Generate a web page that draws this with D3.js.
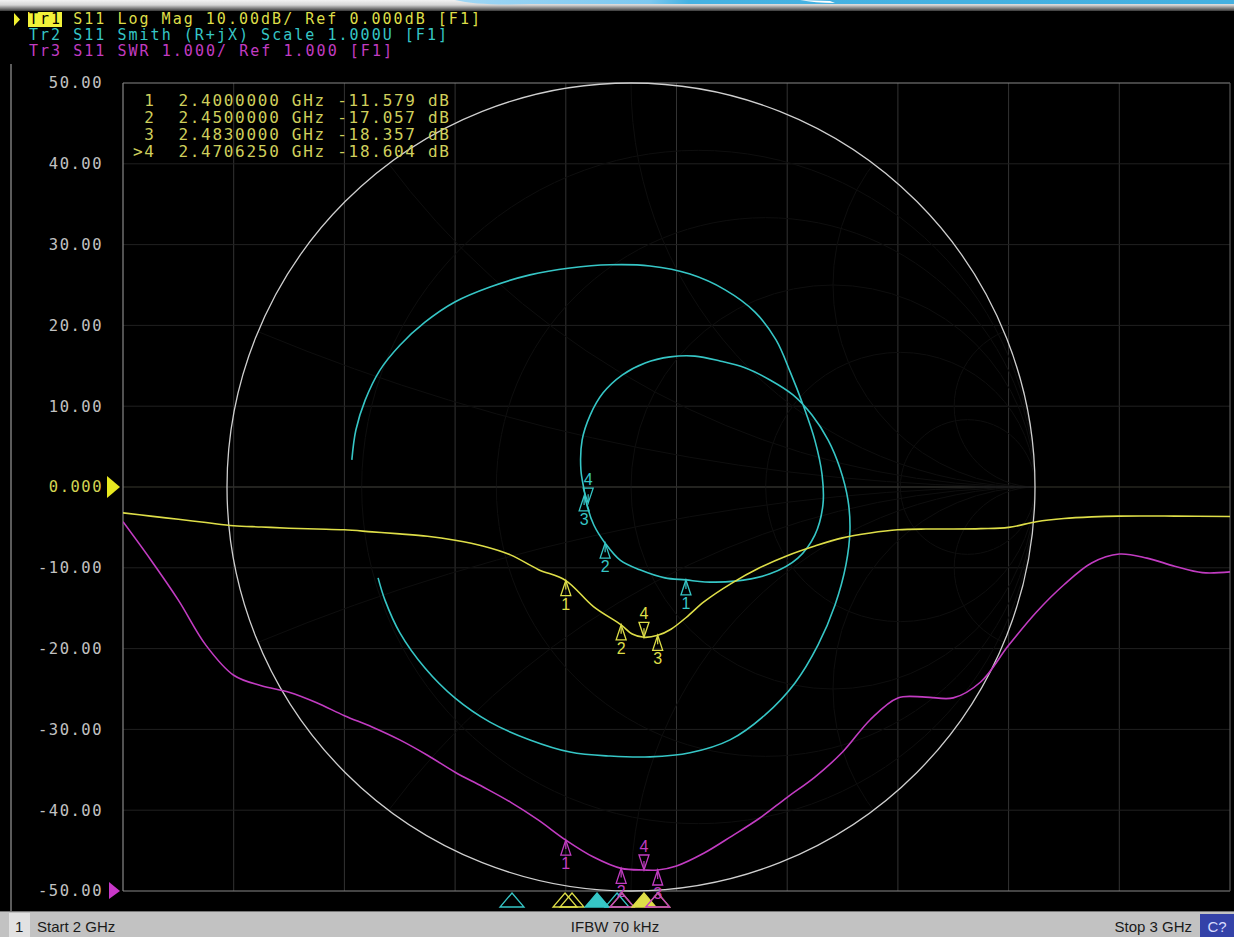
<!DOCTYPE html>
<html><head><meta charset="utf-8">
<script src="https://cdn.jsdelivr.net/npm/d3@7"></script>
<style>
html,body{margin:0;padding:0;background:#000;overflow:hidden}
svg{display:block}
</style></head><body>
<svg id="c" width="1234" height="937"></svg>
<script>
// ---------------- DATA ----------------
const headerLines = [
  "Tr1 S11 Log Mag 10.00dB/ Ref 0.000dB [F1]",
  "Tr2 S11 Smith (R+jX) Scale 1.000U [F1]",
  "Tr3 S11 SWR 1.000/ Ref 1.000 [F1]"
];
const markerIds = ["1", "2", "3", ">4"];
const markerFreqText = ["2.4000000", "2.4500000", "2.4830000", "2.4706250"];
const markerValText = ["-11.579", "-17.057", "-18.357", "-18.604"];
const markerFreq = [2.4, 2.45, 2.483, 2.470625];
const markerDb = [-11.579, -17.057, -18.357, -18.604];
const markerSwr = [1.63, 1.28, 1.26, 1.26];
const markerGammaRe = [0.136, -0.064, -0.116, -0.106];
const markerGammaIm = [-0.230, -0.139, -0.022, -0.040];
const markerActive = [false, false, false, true];

const yTickValues = [50, 40, 30, 20, 10, 0, -10, -20, -30, -40, -50];
const yTickLabels = ["50.00", "40.00", "30.00", "20.00", "10.00", "0.000", "-10.00", "-20.00", "-30.00", "-40.00", "-50.00"];
const xGridFreqs = [2.1, 2.2, 2.3, 2.4, 2.5, 2.6, 2.7, 2.8, 2.9];

// Tr1 Log Mag (dB) vs frequency (GHz)
const tr1Freq = [2.000, 2.025, 2.050, 2.075, 2.100, 2.125, 2.150, 2.175, 2.200, 2.225, 2.250, 2.275, 2.300, 2.325, 2.350, 2.375, 2.400, 2.425, 2.450, 2.460, 2.4706, 2.483, 2.495, 2.510, 2.525, 2.550, 2.575, 2.600, 2.625, 2.650, 2.675, 2.700, 2.725, 2.750, 2.775, 2.800, 2.825, 2.850, 2.875, 2.900, 2.950, 3.000];
const tr1Db   = [-3.2, -3.6, -4.0, -4.4, -4.8, -4.95, -5.1, -5.2, -5.3, -5.55, -5.8, -6.1, -6.6, -7.3, -8.4, -10.2, -11.58, -14.8, -17.06, -18.2, -18.6, -18.36, -17.6, -16.0, -14.2, -11.9, -10.0, -8.5, -7.3, -6.3, -5.7, -5.3, -5.2, -5.2, -5.15, -5.0, -4.3, -3.9, -3.7, -3.6, -3.6, -3.65];

// Tr3 SWR vs frequency (GHz)
const tr3Freq = [2.000, 2.025, 2.050, 2.075, 2.100, 2.125, 2.150, 2.175, 2.200, 2.225, 2.250, 2.275, 2.300, 2.325, 2.350, 2.375, 2.400, 2.425, 2.450, 2.4706, 2.483, 2.500, 2.525, 2.550, 2.575, 2.600, 2.625, 2.650, 2.675, 2.700, 2.725, 2.750, 2.775, 2.800, 2.825, 2.850, 2.875, 2.900, 2.925, 2.950, 2.975, 3.000];
const tr3Swr  = [5.57, 5.10, 4.60, 4.04, 3.67, 3.54, 3.46, 3.33, 3.17, 3.03, 2.87, 2.68, 2.47, 2.29, 2.10, 1.88, 1.63, 1.42, 1.28, 1.26, 1.26, 1.31, 1.47, 1.68, 1.90, 2.16, 2.41, 2.72, 3.12, 3.39, 3.40, 3.39, 3.59, 4.04, 4.45, 4.79, 5.06, 5.17, 5.12, 5.02, 4.94, 4.95];

// Tr2 Smith chart: reflection coefficient (real, imaginary), in sweep order
const tr2Re = [-0.691, -0.681, -0.658, -0.621, -0.572, -0.510, -0.436, -0.349, -0.250, -0.151, -0.052, 0.047, 0.146, 0.233, 0.307, 0.359, 0.394, 0.426, 0.455, 0.473, 0.475, 0.455, 0.413, 0.344, 0.257, 0.183, 0.136, 0.084, 0.022, -0.027, -0.064, -0.092, -0.109, -0.116, -0.124, -0.121, -0.101, -0.069, -0.022, 0.035, 0.097, 0.158, 0.220, 0.282, 0.344, 0.401, 0.448, 0.488, 0.517, 0.537, 0.542, 0.532, 0.505, 0.463, 0.406, 0.332, 0.245, 0.146, 0.047, -0.052, -0.151, -0.250, -0.349, -0.436, -0.510, -0.572, -0.609, -0.626];
const tr2Im = [0.067, 0.141, 0.215, 0.290, 0.351, 0.408, 0.458, 0.495, 0.525, 0.542, 0.550, 0.547, 0.527, 0.488, 0.433, 0.364, 0.285, 0.203, 0.116, 0.030, -0.045, -0.119, -0.176, -0.215, -0.233, -0.235, -0.230, -0.225, -0.205, -0.181, -0.139, -0.094, -0.045, -0.007, 0.042, 0.116, 0.178, 0.233, 0.277, 0.307, 0.322, 0.324, 0.312, 0.295, 0.265, 0.228, 0.178, 0.116, 0.047, -0.032, -0.106, -0.193, -0.292, -0.391, -0.485, -0.564, -0.626, -0.658, -0.668, -0.666, -0.656, -0.626, -0.582, -0.522, -0.448, -0.361, -0.280, -0.225];

// Marker position indicators below the grid
const indFreq   = [2.3514, 2.3993, 2.4056, 2.4282, 2.4463, 2.4508, 2.4508, 2.4706, 2.483, 2.483];
const indTrace  = ["Tr2", "Tr1", "Tr1", "Tr2", "Tr2", "Tr1", "Tr3", "Tr1", "Tr1", "Tr3"];
const indFilled = [false, false, false, true, false, false, false, true, false, false];

const smithRCircles = [0.2, 0.5, 1, 2, 5];
const smithXArcs = [0.2, 0.5, 1, 2, 5, -0.2, -0.5, -1, -2, -5];

// ---------------- LAYOUT / STYLE ----------------
const col = { Tr1: "#dede48", Tr2: "#36c6c6", Tr3: "#c23cc2" };
const plot = { l: 123, r: 1230, t: 83, b: 891 };
const smith = { cx: 631, cy: 487, r: 404 };
const MONO = "DejaVu Sans Mono, monospace";
const SANS = "Liberation Sans, Arial, sans-serif";

const svg = d3.select("#c");
const defs = svg.append("defs");

const x = d3.scaleLinear().domain([2, 3]).range([plot.l, plot.r]);
const yDb = d3.scaleLinear().domain([-50, 50]).range([plot.b, plot.t]);
const ySwr = d3.scaleLinear().domain([1, 11]).range([plot.b, plot.t]);
const gx = d3.scaleLinear().domain([-1, 1]).range([smith.cx - smith.r, smith.cx + smith.r]);
const gy = d3.scaleLinear().domain([-1, 1]).range([smith.cy + smith.r, smith.cy - smith.r]);

// background
svg.append("rect").attr("width", 1234).attr("height", 937).attr("fill", "#000");

// top window band
const tg = defs.append("linearGradient").attr("id", "topg").attr("x1", 0).attr("y1", 0).attr("x2", 0).attr("y2", 1);
tg.append("stop").attr("offset", "0%").attr("stop-color", "#f2f2f2");
tg.append("stop").attr("offset", "45%").attr("stop-color", "#d6d6d6");
tg.append("stop").attr("offset", "100%").attr("stop-color", "#3a3a3a");
svg.append("rect").attr("x", 0).attr("y", 0).attr("width", 1234).attr("height", 11).attr("fill", "url(#topg)");
const bg = defs.append("linearGradient").attr("id", "blueg").attr("x1", 0).attr("y1", 0).attr("x2", 1).attr("y2", 0);
bg.append("stop").attr("offset", "0%").attr("stop-color", "#9fd6f4");
bg.append("stop").attr("offset", "25%").attr("stop-color", "#7cc8f0");
bg.append("stop").attr("offset", "30%").attr("stop-color", "#45b2e2");
bg.append("stop").attr("offset", "100%").attr("stop-color", "#44b0e0");
svg.append("path").attr("d", "M455,0 Q480,6 530,4 L1234,4 L1234,0 Z").attr("fill", "url(#blueg)");
svg.append("path").attr("d", "M800,0 Q815,3 835,3 L830,1 Z").attr("fill", "#ffffff");

// left border strip
svg.append("line").attr("x1", 11).attr("x2", 11).attr("y1", 64).attr("y2", 911).attr("stroke", "#5c5c5c").attr("stroke-width", 2);

// grid
const grid = svg.append("g");
grid.selectAll("line.v").data(xGridFreqs).join("line")
  .attr("x1", d => x(d)).attr("x2", d => x(d)).attr("y1", plot.t).attr("y2", plot.b)
  .attr("stroke", "#333").attr("stroke-width", 1);
grid.selectAll("line.h").data(yTickValues.filter(v => v !== 50 && v !== -50)).join("line")
  .attr("x1", plot.l).attr("x2", plot.r).attr("y1", d => yDb(d)).attr("y2", d => yDb(d))
  .attr("stroke", d => d === 0 ? "#38382e" : "#202020").attr("stroke-width", 1);

// Smith faint grid
defs.append("clipPath").attr("id", "unit").append("circle").attr("cx", smith.cx).attr("cy", smith.cy).attr("r", smith.r);
defs.append("clipPath").attr("id", "plotclip").append("rect").attr("x", plot.l).attr("y", plot.t - 2).attr("width", plot.r - plot.l).attr("height", plot.b - plot.t + 4);
const sg = svg.append("g").attr("clip-path", "url(#unit)").attr("fill", "none").attr("stroke", "#0e0e0e").attr("stroke-width", 1);
sg.selectAll("circle.r").data(smithRCircles).join("circle")
  .attr("cx", r => gx(r / (1 + r))).attr("cy", gy(0)).attr("r", r => gx(1 / (1 + r)) - gx(0));
sg.selectAll("circle.x").data(smithXArcs).join("circle")
  .attr("cx", gx(1)).attr("cy", v => gy(1 / v)).attr("r", v => Math.abs(gx(1 / Math.abs(v)) - gx(0)));
sg.append("line").attr("x1", gx(-1)).attr("x2", gx(1)).attr("y1", gy(0)).attr("y2", gy(0)).attr("stroke", "#2a2a2a");

// Frame
const fr = svg.append("g").attr("stroke", "#888").attr("stroke-width", 1.2);
fr.append("line").attr("x1", plot.l).attr("x2", plot.r).attr("y1", plot.t).attr("y2", plot.t);
fr.append("line").attr("x1", plot.l).attr("x2", plot.r).attr("y1", plot.b).attr("y2", plot.b);
fr.append("line").attr("x1", plot.l).attr("x2", plot.l).attr("y1", plot.t).attr("y2", plot.b);
fr.append("line").attr("x1", plot.r).attr("x2", plot.r).attr("y1", plot.t).attr("y2", plot.b).attr("stroke", "#555");

// Smith outer circle
svg.append("circle").attr("cx", gx(0)).attr("cy", gy(0)).attr("r", gx(1) - gx(0))
  .attr("fill", "none").attr("stroke", "#cfcfcf").attr("stroke-width", 1.3);

// Y axis
const axis = d3.axisLeft(yDb).tickValues(yTickValues).tickFormat((d, i) => yTickLabels[i]).tickSize(0).tickPadding(20);
const ga = svg.append("g").attr("transform", `translate(${plot.l},0)`).call(axis);
ga.select(".domain").remove();
ga.attr("font-family", MONO).attr("font-size", 15.5);
ga.selectAll("text").attr("fill", d => d === 0 ? "#d4d452" : "#c2c2c2").style("letter-spacing", "1.5px");

// reference triangles
svg.append("path").attr("d", `M${plot.l - 16},${yDb(0) - 11} L${plot.l - 3},${yDb(0)} L${plot.l - 16},${yDb(0) + 11} Z`).attr("fill", "#e8e820");
svg.append("path").attr("d", `M${plot.l - 14},${ySwr(1) - 9} L${plot.l - 3},${ySwr(1)} L${plot.l - 14},${ySwr(1) + 8} Z`).attr("fill", "#c838c8");

// Traces
const tg2 = svg.append("g").attr("clip-path", "url(#plotclip)").attr("fill", "none").attr("stroke-width", 1.6).attr("stroke-linejoin", "round");
const lineSwr = d3.line().x((d, i) => x(tr3Freq[i])).y(d => ySwr(d)).curve(d3.curveCatmullRom.alpha(0.5));
tg2.append("path").attr("d", lineSwr(tr3Swr)).attr("stroke", col.Tr3);
const lineSmith = d3.line().x((d, i) => gx(d)).y((d, i) => gy(tr2Im[i])).curve(d3.curveCatmullRom.alpha(0.5));
tg2.append("path").attr("d", lineSmith(tr2Re)).attr("stroke", col.Tr2);
const lineDb = d3.line().x((d, i) => x(tr1Freq[i])).y(d => yDb(d)).curve(d3.curveCatmullRom.alpha(0.5));
tg2.append("path").attr("d", lineDb(tr1Db)).attr("stroke", col.Tr1);

// Markers
function marker(px, py, color, label, down) {
  const g = svg.append("g");
  const w = 5, h = 15;
  if (!down) {
    g.append("path").attr("d", `M${px},${py} L${px + w},${py + h} L${px - w},${py + h} Z`)
      .attr("fill", "none").attr("stroke", color).attr("stroke-width", 1.3);
    g.append("line").attr("x1", px).attr("x2", px).attr("y1", py + 2).attr("y2", py + 9).attr("stroke", color).attr("stroke-width", 1.2);
    g.append("text").attr("x", px).attr("y", py + h + 14).attr("text-anchor", "middle")
      .attr("font-family", SANS).attr("font-size", 16).attr("fill", color).text(label);
  } else {
    g.append("path").attr("d", `M${px},${py} L${px + w},${py - h} L${px - w},${py - h} Z`)
      .attr("fill", "none").attr("stroke", color).attr("stroke-width", 1.3);
    g.append("line").attr("x1", px).attr("x2", px).attr("y1", py - 2).attr("y2", py - 9).attr("stroke", color).attr("stroke-width", 1.2);
    g.append("text").attr("x", px).attr("y", py - h - 3).attr("text-anchor", "middle")
      .attr("font-family", SANS).attr("font-size", 16).attr("fill", color).text(label);
  }
}
markerFreq.forEach((f, i) => {
  const lab = String(i + 1);
  marker(x(f), yDb(markerDb[i]), col.Tr1, lab, markerActive[i]);
  marker(x(f), ySwr(markerSwr[i]), col.Tr3, lab, markerActive[i]);
  marker(gx(markerGammaRe[i]), gy(markerGammaIm[i]), col.Tr2, lab, markerActive[i]);
});

// Indicators below grid
indFreq.forEach((f, i) => {
  const cx = x(f), c = col[indTrace[i]];
  svg.append("path").attr("d", `M${cx},893 L${cx + 12},907 L${cx - 12},907 Z`)
    .attr("fill", indFilled[i] ? c : "none").attr("stroke", c).attr("stroke-width", 1.3);
});

// Header
svg.append("path").attr("d", "M14,13 L20,19.5 L14,26 Z").attr("fill", "#f0f030");
svg.append("rect").attr("x", 28).attr("y", 12).attr("width", 34).attr("height", 15).attr("fill", "#f2f23a");
const hdrColors = [col.Tr1, col.Tr2, col.Tr3];
const hdrY = [24, 40, 56];
headerLines.forEach((s, i) => {
  const t = svg.append("text").attr("x", 29).attr("y", hdrY[i]).attr("font-family", MONO).attr("font-size", 15)
    .attr("fill", hdrColors[i]).attr("textLength", s.length * 11.0).attr("lengthAdjust", "spacing");
  if (i === 0) {
    t.append("tspan").attr("fill", "#000").text(s.slice(0, 3));
    t.append("tspan").text(s.slice(3));
  } else t.text(s);
});

// Marker table
const tblY = [106, 123, 140, 157];
markerIds.forEach((id, i) => {
  const pre = id.length === 1 ? " " + id : id;
  const s = `${pre}  ${markerFreqText[i]} GHz ${markerValText[i]} dB`;
  svg.append("text").attr("x", 133).attr("y", tblY[i]).attr("font-family", MONO).attr("font-size", 16)
    .attr("fill", "#cfcf5c").attr("textLength", 316).attr("lengthAdjust", "spacing")
    .style("white-space", "pre").attr("xml:space", "preserve").text(s);
});

// Status bar
svg.append("rect").attr("x", 0).attr("y", 911).attr("width", 1234).attr("height", 26).attr("fill", "#c2c2c2");
svg.append("line").attr("x1", 0).attr("x2", 1234).attr("y1", 911.5).attr("y2", 911.5).attr("stroke", "#777");
svg.append("rect").attr("x", 9).attr("y", 913).attr("width", 21).attr("height", 24).attr("fill", "#e2e2e2");
const sb = svg.append("g").attr("font-family", SANS).attr("font-size", 15).attr("fill", "#1a1a1a");
sb.append("text").attr("x", 15).attr("y", 932).text("1");
sb.append("text").attr("x", 37).attr("y", 932).text("Start 2 GHz");
sb.append("text").attr("x", 615).attr("y", 932).attr("text-anchor", "middle").text("IFBW 70 kHz");
sb.append("text").attr("x", 1192).attr("y", 932).attr("text-anchor", "end").text("Stop 3 GHz");
svg.append("rect").attr("x", 1200).attr("y", 914).attr("width", 34).attr("height", 23).attr("fill", "#3442a8");
svg.append("text").attr("x", 1217).attr("y", 932).attr("text-anchor", "middle").attr("font-family", SANS).attr("font-size", 15).attr("fill", "#d8dcff").text("C?");
</script></body></html>
